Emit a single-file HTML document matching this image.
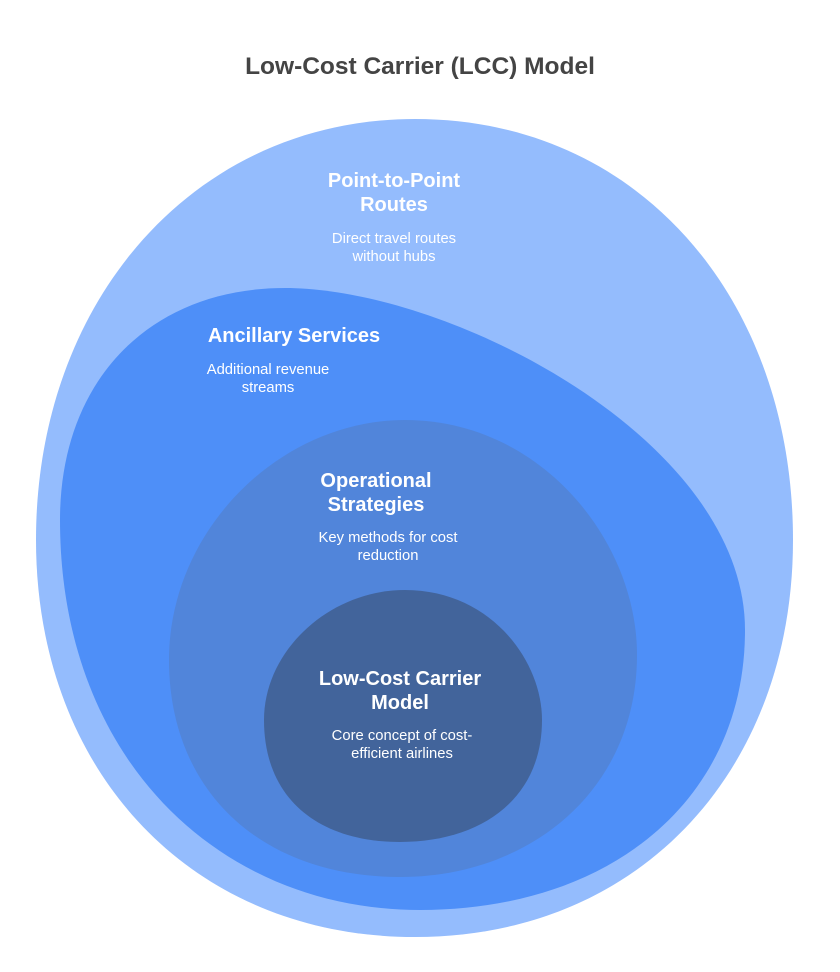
<!DOCTYPE html>
<html><head><meta charset="utf-8"><style>
html,body{margin:0;padding:0;background:#fff;}
svg{display:block;font-family:"Liberation Sans",Arial,sans-serif;}
</style></head><body>
<svg width="840" height="972" viewBox="0 0 840 972" xmlns="http://www.w3.org/2000/svg">
<text x="420" y="74" text-anchor="middle" font-size="24.5" font-weight="bold" fill="#444">Low-Cost Carrier (LCC) Model</text>
<path d="M415,119 C640,119 793,300 793,540 C793,770 640,937 415,937 C190,937 36,770 36,540 C36,300 195,119 415,119Z" fill="#94BCFD"/>
<path d="M285,288 C450,288 745,440 745,630 C745,800 610,910 420,910 C220,910 60,760 60,520 C60,380 150,288 285,288Z" fill="#4E8FF8"/>
<path d="M405,420 C540,420 637,540 637,655 C637,790 530,877 400,877 C260,877 169,790 169,660 C169,530 280,420 405,420Z" fill="#5185DA"/>
<path d="M405,590 C490,590 542,660 542,720 C542,800 480,842 400,842 C320,842 264,800 264,720 C264,650 330,590 405,590Z" fill="#42649B"/>
<g fill="#fff" text-anchor="middle">
<text x="394" y="187" font-size="20" font-weight="bold">Point-to-Point</text>
<text x="394" y="211" font-size="20" font-weight="bold">Routes</text>
<text x="394" y="243" font-size="14.8">Direct travel routes</text>
<text x="394" y="261" font-size="14.8">without hubs</text>
<text x="294" y="342" font-size="20" font-weight="bold">Ancillary Services</text>
<text x="268" y="374" font-size="14.8">Additional revenue</text>
<text x="268" y="392" font-size="14.8">streams</text>
<text x="376" y="487" font-size="20" font-weight="bold">Operational</text>
<text x="376" y="511" font-size="20" font-weight="bold">Strategies</text>
<text x="388" y="542" font-size="14.8">Key methods for cost</text>
<text x="388" y="560" font-size="14.8">reduction</text>
<text x="400" y="685" font-size="20" font-weight="bold">Low-Cost Carrier</text>
<text x="400" y="709" font-size="20" font-weight="bold">Model</text>
<text x="402" y="740" font-size="14.8">Core concept of cost-</text>
<text x="402" y="758" font-size="14.8">efficient airlines</text>
</g>
</svg>
</body></html>
